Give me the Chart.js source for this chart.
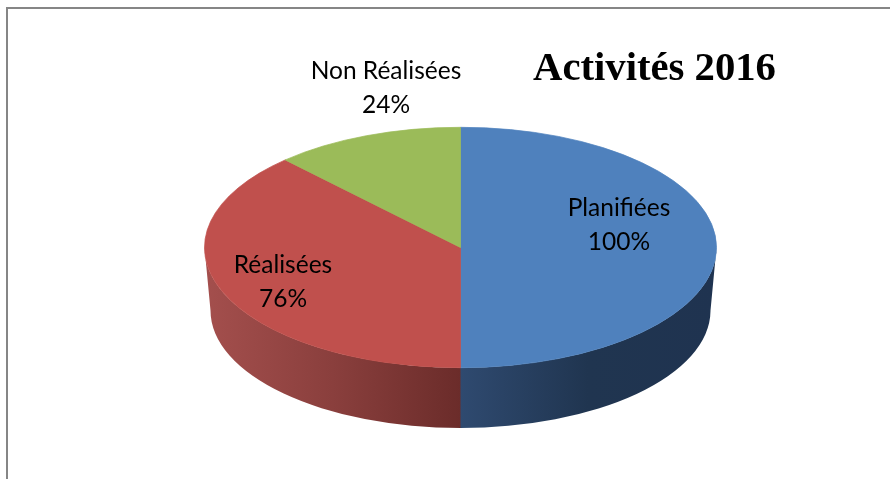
<!DOCTYPE html>
<html lang="fr">
<head>
<meta charset="utf-8">
<title>Activités 2016</title>
<style>
  html, body { margin: 0; padding: 0; background: #fff; overflow: hidden; }
  #wrap { position: relative; width: 890px; height: 479px; }
  #frame { position: absolute; left: 6px; top: 7px; right: 0; bottom: 0; border-left: 2px solid #868686; border-top: 2px solid #868686; }
  canvas { position: absolute; left: 0; top: 0; }
</style>
</head>
<body>
<div id="wrap">
  <div id="frame"></div>
  <canvas id="c" width="890" height="479"></canvas>
</div>
<script src="https://cdn.jsdelivr.net/npm/chart.js@4"></script>
<script>
const chartTitle = 'Activités 2016';
const categories = ['Planifiées', 'Réalisées', 'Non Réalisées'];
const values = [100, 76, 24];
const topColors = ['#4f81bd', '#c0504d', '#9bbb59'];
const wallStops = [
  ['#2f4a70', '#203550', '#1f3350'],
  ['#6b2c2a', '#8a3f3d', '#a44f4d'],
  ['#7a9140', '#7a9140', '#7a9140']
];
const labelCentres = [[619, 216], [283, 273], [386, 79]];

const CX = 460.5, CY = 247.5, RX = 256, RY = 120.2;
const K = RY / RX;
const WALL_RX = 250, WALL_BOTTOM = 428;

const tiltPlugin = {
  id: 'tilt',
  beforeDatasetDraw(chart, args) {
    const ctx = chart.ctx;
    const arcs = args.meta.data;
    const wallRy = WALL_RX * K;
    const wallCy = WALL_BOTTOM - wallRy;
    arcs.forEach((arc, i) => {
      const { startAngle, endAngle, x, outerRadius } = arc.getProps(['startAngle', 'endAngle', 'x', 'outerRadius'], true);
      const a0 = Math.max(startAngle, 0);
      const a1 = Math.min(endAngle + 0.004, Math.PI);
      if (a1 <= a0) return;
      const xA = x + Math.cos(a0) * outerRadius;
      const xB = x + Math.cos(a1) * outerRadius;
      const g = ctx.createLinearGradient(Math.min(xA, xB), 0, Math.max(xA, xB), 0);
      const stops = wallStops[i];
      const list = i === 1 ? [stops[2], stops[1], stops[0]] : stops;
      g.addColorStop(0, list[0]);
      g.addColorStop(0.5, list[1]);
      g.addColorStop(1, list[2]);
      ctx.save();
      ctx.beginPath();
      ctx.ellipse(x, CY, outerRadius, outerRadius * K, 0, a0, a1, false);
      ctx.ellipse(x, wallCy, WALL_RX, wallRy, 0, a1, a0, true);
      ctx.closePath();
      ctx.fillStyle = g;
      ctx.fill();
      ctx.restore();
    });
    ctx.save();
    ctx.translate(CX, CY);
    ctx.scale(1, K);
    ctx.translate(-CX, -CY);
  },
  afterDatasetDraw(chart) {
    chart.ctx.restore();
  },
  afterDraw(chart) {
    const ctx = chart.ctx;
    ctx.save();
    ctx.fillStyle = '#000';
    ctx.textAlign = 'center';
    ctx.textBaseline = 'alphabetic';
    ctx.font = '24.5px Lato';
    categories.forEach((name, i) => {
      const [lx, ly] = labelCentres[i];
      ctx.fillText(name, lx, ly);
      ctx.fillText(values[i] + '%', lx, ly + 34);
    });
    ctx.font = 'bold 40.7px "Liberation Serif"';
    ctx.fillText(chartTitle, 654.5, 80);
    ctx.restore();
  }
};

new Chart(document.getElementById('c'), {
  type: 'pie',
  data: {
    labels: categories,
    datasets: [{ data: values, backgroundColor: topColors, borderColor: topColors, borderWidth: 1, clip: false }]
  },
  options: {
    responsive: false,
    animation: false,
    radius: RX,
    layout: { padding: { left: 31, top: 16 } },
    plugins: { legend: { display: false }, tooltip: { enabled: false }, title: { display: false } }
  },
  plugins: [tiltPlugin]
});
</script>
</body>
</html>
